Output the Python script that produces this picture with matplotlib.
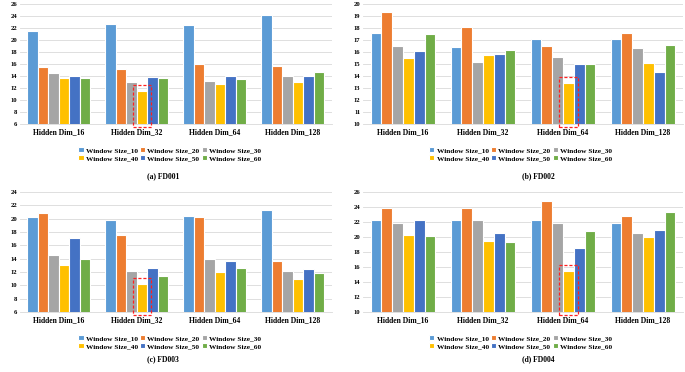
import numpy as np
import matplotlib
matplotlib.use('Agg')
import matplotlib.pyplot as plt
from matplotlib.patches import Rectangle

plt.rcParams['font.family'] = ['Liberation Serif', 'DejaVu Serif']
plt.rcParams['font.weight'] = 'bold'

# Daten
dims = ['Hidden Dim_16', 'Hidden Dim_32', 'Hidden Dim_64', 'Hidden Dim_128']
windows = ['Window Size_10', 'Window Size_20', 'Window Size_30',
           'Window Size_40', 'Window Size_50', 'Window Size_60']

# Zeilen = Window Size, Spalten = Hidden Dim
fd001 = [[21.5, 22.7, 22.4, 24.2],
         [15.5, 15.1, 16.0, 15.7],
         [14.4, 13.0, 13.1, 13.9],
         [13.7, 11.4, 12.7, 13.0],
         [14.0, 13.8, 14.0, 13.9],
         [13.7, 13.6, 13.5, 14.7]]
fd002 = [[17.6, 16.4, 17.05, 17.1],
         [19.3, 18.1, 16.5, 17.6],
         [16.45, 15.15, 15.6, 16.35],
         [15.5, 15.7, 13.4, 15.1],
         [16.1, 15.8, 14.95, 14.3],
         [17.45, 16.15, 15.0, 16.6]]
fd003 = [[20.2, 19.8, 20.4, 21.3],
         [20.9, 17.6, 20.2, 13.6],
         [14.5, 12.2, 13.9, 12.2],
         [13.0, 10.2, 12.0, 10.9],
         [17.1, 12.6, 13.7, 12.4],
         [14.0, 11.4, 12.6, 11.8]]
fd004 = [[22.3, 22.3, 22.3, 21.8],
         [23.8, 23.9, 24.8, 22.8],
         [21.8, 22.3, 21.8, 20.6],
         [20.3, 19.5, 15.5, 20.0],
         [22.2, 20.6, 18.6, 21.0],
         [20.2, 19.3, 20.8, 23.3]]

colors = ['#5B9BD5', '#ED7D31', '#A5A5A5', '#FFC000', '#4472C4', '#70AD47']

# (daten, ylim, yticks-schritt, caption, markierte gruppe, axes-pos, legend-pos, caption-pos)
panels = [
    (fd001, (6, 26), 2, '(a) FD001', 1, [0.029, 0.667, 0.455, 0.323], (0.248, 0.585), (0.238, 0.527)),
    (fd002, (10, 20), 1, '(b) FD002', 2, [0.530, 0.667, 0.467, 0.323], (0.760, 0.585), (0.786, 0.527)),
    (fd003, (6, 24), 2, '(c) FD003', 1, [0.029, 0.161, 0.455, 0.323], (0.248, 0.080), (0.238, 0.034)),
    (fd004, (10, 26), 2, '(d) FD004', 2, [0.530, 0.161, 0.467, 0.323], (0.760, 0.080), (0.786, 0.034)),
]

fig = plt.figure(figsize=(6.85, 3.72), dpi=100)

x = np.arange(len(dims))
w = 0.135

for data, ylim, step, caption, mark, pos, legpos, cappos in panels:
    ax = fig.add_axes(pos)
    for i in range(len(windows)):
        ax.bar(x + (i - 2.5) * w, data[i], width=w, color=colors[i],
               edgecolor='white', linewidth=0.8, label=windows[i], zorder=3)
    ax.set_ylim(ylim)
    ax.set_xlim(-0.5, len(dims) - 0.5)
    ax.set_yticks(np.arange(ylim[0], ylim[1] + 0.1, step))
    ax.set_xticks(x)
    ax.set_xticklabels(dims, fontsize=5.5, fontweight='bold')
    ax.tick_params(axis='y', labelsize=4.8, length=0, pad=2)
    ax.tick_params(axis='x', length=0, pad=3)
    ax.grid(axis='y', color='#D9D9D9', linewidth=0.6, zorder=0)
    for s in ['top', 'right', 'left']:
        ax.spines[s].set_visible(False)
    ax.spines['bottom'].set_color('#D9D9D9')
    ax.spines['bottom'].set_linewidth(0.6)

    # rot gestrichelter Kasten um den kleinsten Wert (Window Size_40)
    span = ylim[1] - ylim[0]
    bw = 0.23
    xb = mark + 0.5 * w - bw / 2
    bottom = ylim[0] - 0.025 * span
    top = data[3][mark] + 0.05 * span
    ax.add_patch(Rectangle((xb, bottom), bw, top - bottom,
                           fill=False, edgecolor='#FF2020', linestyle=(0, (2.5, 1.5)),
                           linewidth=0.9, clip_on=False, zorder=5))

    # Legende zeilenweise: 10 20 30 / 40 50 60
    h, l = ax.get_legend_handles_labels()
    order = [0, 3, 1, 4, 2, 5]
    fig.legend([h[k] for k in order], [l[k] for k in order], loc='center',
               bbox_to_anchor=legpos, ncol=3, frameon=False,
               handlelength=0.7, handleheight=0.7,
               handletextpad=0.3, columnspacing=0.3, labelspacing=0.25,
               prop={'size': 5.3, 'weight': 'bold'})
    fig.text(cappos[0], cappos[1], caption, ha='center', va='center',
             fontsize=5.5, fontweight='bold')

plt.savefig('out.png', dpi=100)
